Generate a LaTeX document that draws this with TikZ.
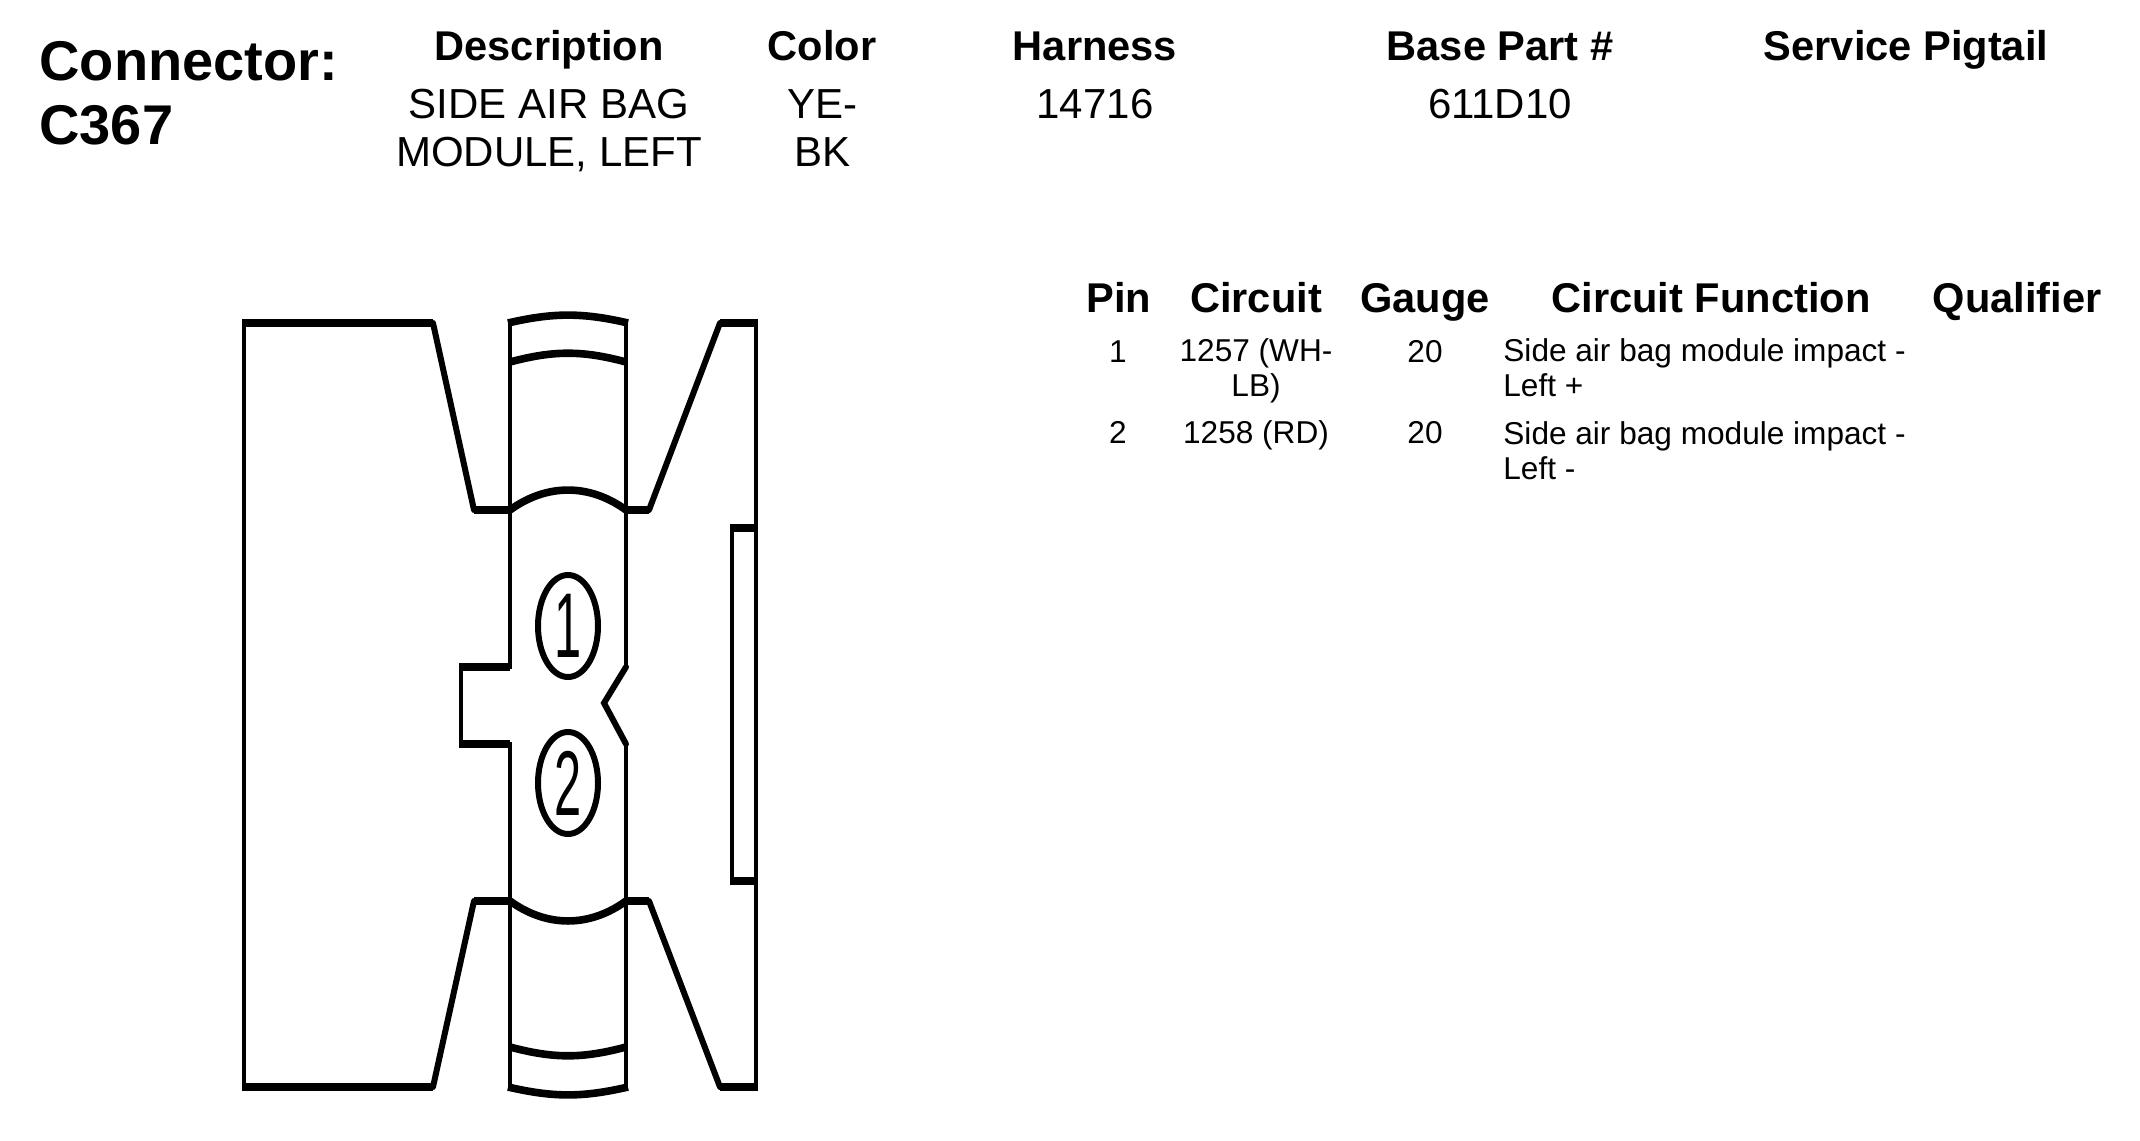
\documentclass[tikz,border=0pt]{standalone}
\usepackage{graphicx}
\usepackage{fontspec}
\setmainfont{Liberation Sans}
\begin{document}
\begin{tikzpicture}[
		x=0.5pt,y=-0.5pt,
		thinline/.style={line width=2.2pt,line cap=rect},
		slopeline/.style={line width=3pt,line cap=round},
		thickline/.style={line width=4.4pt,line cap=butt},
		arcline/.style={line width=3.8pt,line cap=butt},
		pinring/.style={line width=3pt},
		titletext/.style={anchor=base west,inner sep=0pt,align=left,font=\fontsize{28}{32}\selectfont\bfseries},
		headtext/.style={anchor=base,inner sep=0pt,font=\fontsize{20.8}{24}\selectfont\bfseries},
		valuetext/.style={anchor=base,inner sep=0pt,align=center,font=\fontsize{21}{24}\selectfont},
		pinhead/.style={anchor=base,inner sep=0pt,font=\fontsize{20.8}{24}\selectfont\bfseries},
		pintext/.style={anchor=base,inner sep=0pt,align=center,font=\fontsize{15.8}{17.5}\selectfont},
		functext/.style={pintext,anchor=base west,align=left},
		pinmark/.style={inner sep=0pt,font=\fontsize{46}{46}\selectfont}
	]
	\useasboundingbox (0,0) rectangle (2140,1140);

	% heading
	\node[titletext] (title) at (39,144) {Connector:\\C367};
	\node[headtext] (hdesc) at (549,60) {Description};
	\node[headtext] (hcolor) at (822,60) {Color};
	\node[headtext] (hharness) at (1095,60) {Harness};
	\node[headtext] (hbase) at (1500,60) {Base Part \#};
	\node[headtext] (hpigtail) at (1906,60) {Service Pigtail};
	\node[valuetext] (vdesc) at (549,166) {SIDE AIR BAG\\MODULE, LEFT};
	\node[valuetext] (vcolor) at (822,166) {YE-\\BK};
	\node[valuetext] (vharness) at (1095,118) {14716};
	\node[valuetext] (vbase) at (1500,118) {611D10};

	% pin table
	\node[pinhead] (hpin) at (1119,312) {Pin};
	\node[pinhead] (hcircuit) at (1256,312) {Circuit};
	\node[pinhead] (hgauge) at (1425,312) {Gauge};
	\node[pinhead] (hfunction) at (1711,312) {Circuit Function};
	\node[pinhead] (hqualifier) at (2017,312) {Qualifier};
	\node[pintext] (pinone) at (1118,362) {1};
	\node[pintext] (circone) at (1256,396) {1257 (WH-\\LB)};
	\node[pintext] (gaugeone) at (1425,362) {20};
	\node[functext] (funcone) at (1503,396) {Side air bag module impact -\\Left +};
	\node[pintext] (pintwo) at (1118,443) {2};
	\node[pintext] (circtwo) at (1256,443) {1258 (RD)};
	\node[pintext] (gaugetwo) at (1425,443) {20};
	\node[functext] (functwo) at (1503,479) {Side air bag module impact -\\Left -};

	% connector outline
	\draw[thinline] (244,323) -- (244,1087);
	\draw[thinline] (756,323) -- (756,1087);
	\draw[thinline] (510,323) -- (510,667);
	\draw[thinline] (510,744) -- (510,1087);
	\draw[thinline] (626,323) -- (626,667);
	\draw[thinline] (626,744) -- (626,1087);
	\draw[thinline] (461,667) -- (461,744);
	\draw[thinline] (732,528) -- (732,881);
	\draw[thickline] (242,323) -- (433,323);
	\draw[thickline] (720,323) -- (758,323);
	\draw[thickline] (242,1087) -- (433,1087);
	\draw[thickline] (720,1087) -- (758,1087);
	\draw[thickline] (474,510) -- (510,510);
	\draw[thickline] (626,510) -- (649,510);
	\draw[thickline] (474,901) -- (510,901);
	\draw[thickline] (626,901) -- (649,901);
	\draw[thickline] (459,667) -- (510,667);
	\draw[thickline] (459,744) -- (510,744);
	\draw[thickline] (730,528) -- (756,528);
	\draw[thickline] (730,881) -- (756,881);
	\draw[slopeline] (433,323) -- (474,510);
	\draw[slopeline] (649,510) -- (720,323);
	\draw[slopeline] (433,1087) -- (474,901);
	\draw[slopeline] (649,901) -- (720,1087);
	\draw[slopeline] (626,667) -- (604,703) -- (626,744);

	% arcs across the middle column
	\draw[arcline] (508,323) to[bend left=13] (628,323);
	\draw[arcline] (510,362) to[bend left=15] (626,362);
	\draw[arcline] (510,510) to[bend left=36] (626,510);
	\draw[arcline] (510,901) to[bend right=36] (626,901);
	\draw[arcline] (510,1047) to[bend right=15] (626,1047);
	\draw[arcline] (508,1087) to[bend right=13] (628,1087);

	% pins
	\draw[pinring] (568,626) ellipse (30 and 51);
	\draw[pinring] (568,783) ellipse (30 and 51);
	\node[pinmark] (pinmarkone) at (568,626) {\scalebox{0.53}[1]{1}};
	\node[pinmark] (pinmarktwo) at (568,783) {\scalebox{0.53}[1]{2}};
\end{tikzpicture}
\end{document}
